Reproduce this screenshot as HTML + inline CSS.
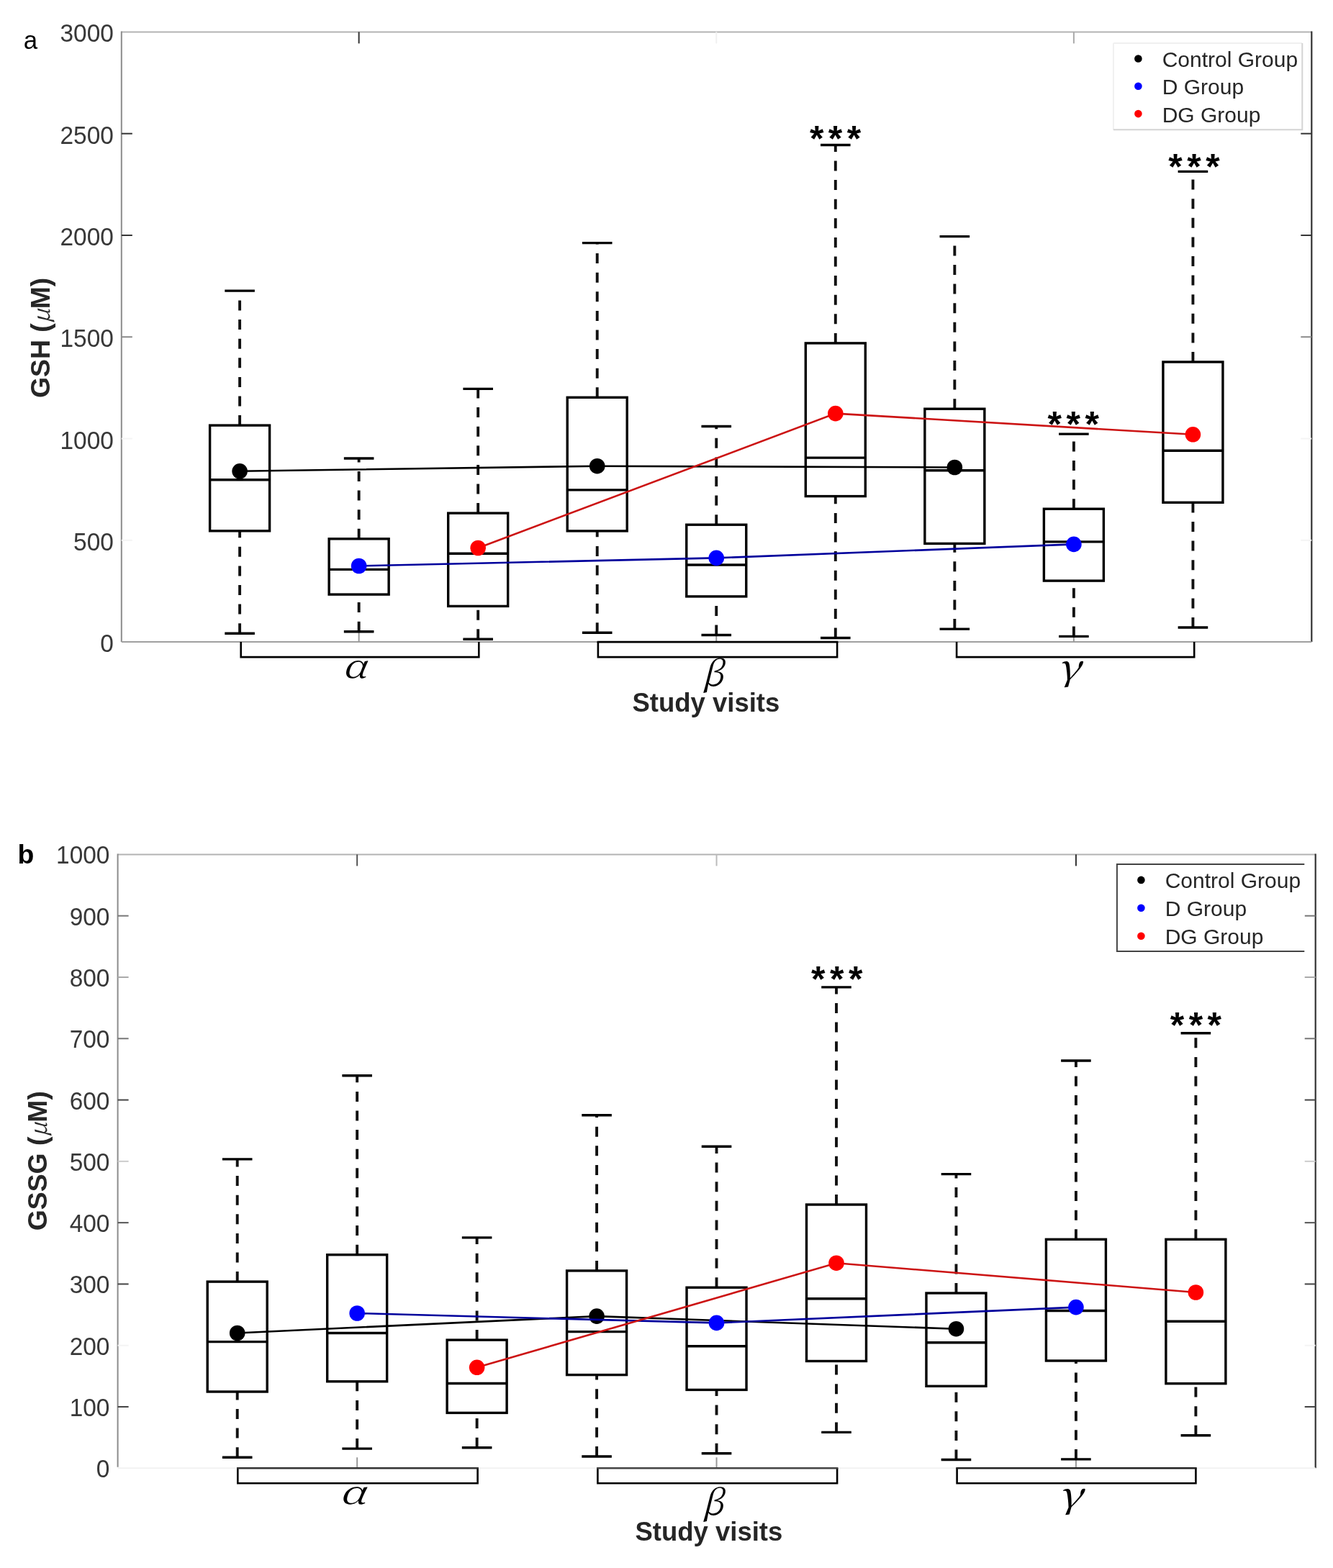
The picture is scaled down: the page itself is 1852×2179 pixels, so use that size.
<!DOCTYPE html><html><head><meta charset="utf-8"><title>GSH and GSSG box plots</title>
<style>html,body{margin:0;padding:0;background:#fff;}svg{display:block;}</style></head><body>
<svg width="1852" height="2179" viewBox="0 0 1852 2179">
<rect x="0" y="0" width="1852" height="2179" fill="#fff"/>
<g fill="none" stroke-linecap="butt">
<line x1="168.8" y1="44.4" x2="1822.3" y2="44.4" stroke="#b3b3b3" stroke-width="2"/>
<line x1="168.8" y1="43.4" x2="168.8" y2="892.1" stroke="#8c8c8c" stroke-width="2"/>
<line x1="1822.3" y1="43.4" x2="1822.3" y2="892.1" stroke="#333" stroke-width="2.2"/>
<line x1="168.8" y1="892.1" x2="1822.3" y2="892.1" stroke="#a0a0a0" stroke-width="2"/>
<line x1="168.8" y1="750.82" x2="183.8" y2="750.82" stroke="#f4f4f4" stroke-width="2"/>
<line x1="1807.3" y1="750.82" x2="1822.3" y2="750.82" stroke="#f4f4f4" stroke-width="2"/>
<line x1="168.8" y1="609.53" x2="183.8" y2="609.53" stroke="#f4f4f4" stroke-width="2"/>
<line x1="1807.3" y1="609.53" x2="1822.3" y2="609.53" stroke="#f4f4f4" stroke-width="2"/>
<line x1="168.8" y1="468.25" x2="183.8" y2="468.25" stroke="#8a8a8a" stroke-width="2"/>
<line x1="1807.3" y1="468.25" x2="1822.3" y2="468.25" stroke="#8a8a8a" stroke-width="2"/>
<line x1="168.8" y1="326.97" x2="183.8" y2="326.97" stroke="#333" stroke-width="2"/>
<line x1="1807.3" y1="326.97" x2="1822.3" y2="326.97" stroke="#333" stroke-width="2"/>
<line x1="168.8" y1="185.68" x2="183.8" y2="185.68" stroke="#333" stroke-width="2"/>
<line x1="1807.3" y1="185.68" x2="1822.3" y2="185.68" stroke="#333" stroke-width="2"/>
<line x1="498.64" y1="44.4" x2="498.64" y2="60.4" stroke="#333" stroke-width="2"/>
<line x1="498.64" y1="892.1" x2="498.64" y2="877.1" stroke="#999" stroke-width="2"/>
<line x1="995.26" y1="44.4" x2="995.26" y2="60.4" stroke="#f0f0f0" stroke-width="2"/>
<line x1="995.26" y1="892.1" x2="995.26" y2="877.1" stroke="#999" stroke-width="2"/>
<line x1="1491.88" y1="44.4" x2="1491.88" y2="60.4" stroke="#aaa" stroke-width="2"/>
<line x1="1491.88" y1="892.1" x2="1491.88" y2="877.1" stroke="#999" stroke-width="2"/>
</g>
<g font-family="'Liberation Sans', Arial, Helvetica, sans-serif" font-size="34.8" fill="#383838" text-anchor="end">
<text transform="translate(157.8,906.1) scale(0.96,1)">0</text>
<text transform="translate(157.8,764.82) scale(0.96,1)">500</text>
<text transform="translate(157.8,623.53) scale(0.96,1)">1000</text>
<text transform="translate(157.8,482.25) scale(0.96,1)">1500</text>
<text transform="translate(157.8,340.97) scale(0.96,1)">2000</text>
<text transform="translate(157.8,199.68) scale(0.96,1)">2500</text>
<text transform="translate(157.8,58.4) scale(0.96,1)">3000</text>
</g>
<g fill="none" stroke="#000" stroke-width="3.4">
<path d="M333.1 591.1V404.1M333.1 880.2V737.8" stroke-dasharray="14 12.6" stroke-width="3.9" stroke="#111"/>
<path d="M312.3 404.1H353.9M312.3 880.2H353.9"/>
<rect x="291.6" y="591.1" width="83" height="146.7"/>
<path d="M291.6 666.8H374.6"/>
<path d="M498.64 748.8V637M498.64 877.7V826.1" stroke-dasharray="14 12.6" stroke-width="3.9" stroke="#111"/>
<path d="M477.84 637H519.44M477.84 877.7H519.44"/>
<rect x="457.14" y="748.8" width="83" height="77.3"/>
<path d="M457.14 791.4H540.14"/>
<path d="M664.18 713.1V540.4M664.18 888.3V842.4" stroke-dasharray="14 12.6" stroke-width="3.9" stroke="#111"/>
<path d="M643.38 540.4H684.98M643.38 888.3H684.98"/>
<rect x="622.68" y="713.1" width="83" height="129.3"/>
<path d="M622.68 769.2H705.68"/>
<path d="M829.72 552.3V337.6M829.72 879.3V737.9" stroke-dasharray="14 12.6" stroke-width="3.9" stroke="#111"/>
<path d="M808.92 337.6H850.52M808.92 879.3H850.52"/>
<rect x="788.22" y="552.3" width="83" height="185.6"/>
<path d="M788.22 680.9H871.22"/>
<path d="M995.26 729.2V592.5M995.26 882.5V828.9" stroke-dasharray="14 12.6" stroke-width="3.9" stroke="#111"/>
<path d="M974.46 592.5H1016.06M974.46 882.5H1016.06"/>
<rect x="953.76" y="729.2" width="83" height="99.7"/>
<path d="M953.76 785H1036.76"/>
<path d="M1160.8 476.9V201.5M1160.8 886.5V689.6" stroke-dasharray="14 12.6" stroke-width="3.9" stroke="#111"/>
<path d="M1140 201.5H1181.6M1140 886.5H1181.6"/>
<rect x="1119.3" y="476.9" width="83" height="212.7"/>
<path d="M1119.3 636.1H1202.3"/>
<path d="M1326.34 568.2V328.6M1326.34 874.1V755.4" stroke-dasharray="14 12.6" stroke-width="3.9" stroke="#111"/>
<path d="M1305.54 328.6H1347.14M1305.54 874.1H1347.14"/>
<rect x="1284.84" y="568.2" width="83" height="187.2"/>
<path d="M1284.84 653.8H1367.84"/>
<path d="M1491.88 707.2V603.1M1491.88 884.4V807.1" stroke-dasharray="14 12.6" stroke-width="3.9" stroke="#111"/>
<path d="M1471.08 603.1H1512.68M1471.08 884.4H1512.68"/>
<rect x="1450.38" y="707.2" width="83" height="99.9"/>
<path d="M1450.38 752.9H1533.38"/>
<path d="M1657.42 503V238.4M1657.42 872V698.3" stroke-dasharray="14 12.6" stroke-width="3.9" stroke="#111"/>
<path d="M1636.62 238.4H1678.22M1636.62 872H1678.22"/>
<rect x="1615.92" y="503" width="83" height="195.3"/>
<path d="M1615.92 626.3H1698.92"/>
</g>
<path d="M334.7 892.1V913.1H665.3V892.1" fill="none" stroke="#000" stroke-width="2.6"/>
<path d="M830.9 892.1V913.1H1163.1V892.1" fill="none" stroke="#000" stroke-width="2.6"/>
<path d="M829.6 892.1H1164.4" fill="none" stroke="#000" stroke-width="2.6"/>
<path d="M1329.1 892.1V913.1H1659.2V892.1" fill="none" stroke="#000" stroke-width="2.6"/>
<path d="M333.1 654.8 L829.72 647.7 L1326.34 649.5" fill="none" stroke="#000000" stroke-width="2.6"/>
<circle cx="333.1" cy="654.8" r="10.8" fill="#000000"/>
<circle cx="829.72" cy="647.7" r="10.8" fill="#000000"/>
<circle cx="1326.34" cy="649.5" r="10.8" fill="#000000"/>
<path d="M498.64 786.5 L995.26 775.4 L1491.88 756.4" fill="none" stroke="#00009c" stroke-width="2.6"/>
<circle cx="498.64" cy="786.5" r="10.8" fill="#0000ff"/>
<circle cx="995.26" cy="775.4" r="10.8" fill="#0000ff"/>
<circle cx="1491.88" cy="756.4" r="10.8" fill="#0000ff"/>
<path d="M664.18 761.5 L1160.8 574.6 L1657.42 603.8" fill="none" stroke="#cc1414" stroke-width="2.6"/>
<circle cx="664.18" cy="761.5" r="10.8" fill="#ff0000"/>
<circle cx="1160.8" cy="574.6" r="10.8" fill="#ff0000"/>
<circle cx="1657.42" cy="603.8" r="10.8" fill="#ff0000"/>
<g font-family="'Liberation Sans', Arial, Helvetica, sans-serif" font-weight="bold" font-size="50" letter-spacing="6.5" fill="#000" text-anchor="middle">
<text x="1163.85" y="210.4">***</text>
<text x="1494.55" y="607">***</text>
<text x="1662.25" y="248.8">***</text>
</g>
<g font-family="'Noto Serif CJK SC', 'Liberation Serif', serif" font-style="italic" fill="#000">
<text transform="translate(475.64,942.2) scale(1.206,1)" font-size="45.28">α</text>
<text transform="translate(974.89,952.86) scale(1.003,1)" font-size="48.08">β</text>
<text transform="translate(1468.62,944.88) scale(1.206,1)" font-size="49.59">γ</text>
</g>
<text x="980.9" y="988.5" font-family="'Liberation Sans', Arial, Helvetica, sans-serif" font-weight="bold" font-size="36.5" fill="#262626" text-anchor="middle">Study visits</text>
<text transform="translate(69.3,469.4) rotate(-90)" font-family="'Liberation Sans', Arial, Helvetica, sans-serif" font-weight="bold" font-size="37.3" fill="#262626" text-anchor="middle">GSH (<tspan font-family="'Noto Serif CJK SC', 'Liberation Serif', serif" font-style="italic" font-weight="normal" font-size="32">μ</tspan>M)</text>
<text x="32.7" y="67.8" font-family="'Liberation Sans', Arial, Helvetica, sans-serif" font-size="34.8" fill="#000">a</text>
<rect x="1546.9" y="59.9" width="262.4" height="120.3" fill="#fff" stroke="none"/>
<path d="M1546.9 59.9H1809.3M1546.9 59.9V180.2" fill="none" stroke="#f0f0f0" stroke-width="2"/>
<path d="M1809.3 59.9V180.2H1546.9" fill="none" stroke="#d4d4d4" stroke-width="2"/>
<circle cx="1581.4" cy="81.5" r="5.3" fill="#000000"/>
<text x="1614.7" y="93" font-family="'Liberation Sans', Arial, Helvetica, sans-serif" font-size="30" fill="#262626">Control Group</text>
<circle cx="1581.4" cy="119.8" r="5.3" fill="#0000ff"/>
<text x="1614.7" y="131.3" font-family="'Liberation Sans', Arial, Helvetica, sans-serif" font-size="30" fill="#262626">D Group</text>
<circle cx="1581.4" cy="158.1" r="5.3" fill="#ff0000"/>
<text x="1614.7" y="169.6" font-family="'Liberation Sans', Arial, Helvetica, sans-serif" font-size="30" fill="#262626">DG Group</text>
<g fill="none" stroke-linecap="butt">
<line x1="163.6" y1="1187.4" x2="1827.7" y2="1187.4" stroke="#b3b3b3" stroke-width="2"/>
<line x1="163.6" y1="1186.4" x2="163.6" y2="2038.8" stroke="#8c8c8c" stroke-width="2"/>
<line x1="1827.7" y1="1186.4" x2="1827.7" y2="2040.3" stroke="#333" stroke-width="2.2"/>
<line x1="163.6" y1="2040.3" x2="1827.7" y2="2040.3" stroke="#f2f2f2" stroke-width="2"/>
<line x1="163.6" y1="1955.01" x2="178.6" y2="1955.01" stroke="#444" stroke-width="2"/>
<line x1="1812.7" y1="1955.01" x2="1827.7" y2="1955.01" stroke="#444" stroke-width="2"/>
<line x1="163.6" y1="1869.72" x2="178.6" y2="1869.72" stroke="#f4f4f4" stroke-width="2"/>
<line x1="1812.7" y1="1869.72" x2="1827.7" y2="1869.72" stroke="#f4f4f4" stroke-width="2"/>
<line x1="163.6" y1="1784.43" x2="178.6" y2="1784.43" stroke="#444" stroke-width="2"/>
<line x1="1812.7" y1="1784.43" x2="1827.7" y2="1784.43" stroke="#444" stroke-width="2"/>
<line x1="163.6" y1="1699.14" x2="178.6" y2="1699.14" stroke="#555" stroke-width="2"/>
<line x1="1812.7" y1="1699.14" x2="1827.7" y2="1699.14" stroke="#555" stroke-width="2"/>
<line x1="163.6" y1="1613.85" x2="178.6" y2="1613.85" stroke="#ccc" stroke-width="2"/>
<line x1="1812.7" y1="1613.85" x2="1827.7" y2="1613.85" stroke="#ccc" stroke-width="2"/>
<line x1="163.6" y1="1528.56" x2="178.6" y2="1528.56" stroke="#444" stroke-width="2"/>
<line x1="1812.7" y1="1528.56" x2="1827.7" y2="1528.56" stroke="#444" stroke-width="2"/>
<line x1="163.6" y1="1443.27" x2="178.6" y2="1443.27" stroke="#777" stroke-width="2"/>
<line x1="1812.7" y1="1443.27" x2="1827.7" y2="1443.27" stroke="#777" stroke-width="2"/>
<line x1="163.6" y1="1357.98" x2="178.6" y2="1357.98" stroke="#aaa" stroke-width="2"/>
<line x1="1812.7" y1="1357.98" x2="1827.7" y2="1357.98" stroke="#aaa" stroke-width="2"/>
<line x1="163.6" y1="1272.69" x2="178.6" y2="1272.69" stroke="#777" stroke-width="2"/>
<line x1="1812.7" y1="1272.69" x2="1827.7" y2="1272.69" stroke="#777" stroke-width="2"/>
<line x1="496.16" y1="1187.4" x2="496.16" y2="1203.4" stroke="#555" stroke-width="2"/>
<line x1="496.16" y1="2040.3" x2="496.16" y2="2025.3" stroke="#999" stroke-width="2"/>
<line x1="995.54" y1="1187.4" x2="995.54" y2="1203.4" stroke="#bbb" stroke-width="2"/>
<line x1="995.54" y1="2040.3" x2="995.54" y2="2025.3" stroke="#999" stroke-width="2"/>
<line x1="1494.92" y1="1187.4" x2="1494.92" y2="1203.4" stroke="#333" stroke-width="2"/>
<line x1="1494.92" y1="2040.3" x2="1494.92" y2="2025.3" stroke="#999" stroke-width="2"/>
</g>
<g font-family="'Liberation Sans', Arial, Helvetica, sans-serif" font-size="34.8" fill="#383838" text-anchor="end">
<text transform="translate(152.4,2053.3) scale(0.96,1)">0</text>
<text transform="translate(152.4,1968.01) scale(0.96,1)">100</text>
<text transform="translate(152.4,1882.72) scale(0.96,1)">200</text>
<text transform="translate(152.4,1797.43) scale(0.96,1)">300</text>
<text transform="translate(152.4,1712.14) scale(0.96,1)">400</text>
<text transform="translate(152.4,1626.85) scale(0.96,1)">500</text>
<text transform="translate(152.4,1541.56) scale(0.96,1)">600</text>
<text transform="translate(152.4,1456.27) scale(0.96,1)">700</text>
<text transform="translate(152.4,1370.98) scale(0.96,1)">800</text>
<text transform="translate(152.4,1285.69) scale(0.96,1)">900</text>
<text transform="translate(152.4,1200.4) scale(0.96,1)">1000</text>
</g>
<g fill="none" stroke="#000" stroke-width="3.4">
<path d="M329.7 1781.1V1610.9M329.7 2025.2V1934" stroke-dasharray="14 12.6" stroke-width="3.9" stroke="#111"/>
<path d="M308.9 1610.9H350.5M308.9 2025.2H350.5"/>
<rect x="288.2" y="1781.1" width="83" height="152.9"/>
<path d="M288.2 1864.6H371.2"/>
<path d="M496.16 1743.7V1494.7M496.16 2013.1V1919.8" stroke-dasharray="14 12.6" stroke-width="3.9" stroke="#111"/>
<path d="M475.36 1494.7H516.96M475.36 2013.1H516.96"/>
<rect x="454.66" y="1743.7" width="83" height="176.1"/>
<path d="M454.66 1852.5H537.66"/>
<path d="M662.62 1862.1V1719.9M662.62 2011.7V1963.4" stroke-dasharray="14 12.6" stroke-width="3.9" stroke="#111"/>
<path d="M641.82 1719.9H683.42M641.82 2011.7H683.42"/>
<rect x="621.12" y="1862.1" width="83" height="101.3"/>
<path d="M621.12 1922.5H704.12"/>
<path d="M829.08 1765.9V1549.8M829.08 2024V1910.6" stroke-dasharray="14 12.6" stroke-width="3.9" stroke="#111"/>
<path d="M808.28 1549.8H849.88M808.28 2024H849.88"/>
<rect x="787.58" y="1765.9" width="83" height="144.7"/>
<path d="M787.58 1850.6H870.58"/>
<path d="M995.54 1789.2V1593.2M995.54 2019.8V1931.4" stroke-dasharray="14 12.6" stroke-width="3.9" stroke="#111"/>
<path d="M974.74 1593.2H1016.34M974.74 2019.8H1016.34"/>
<rect x="954.04" y="1789.2" width="83" height="142.2"/>
<path d="M954.04 1870.7H1037.04"/>
<path d="M1162 1674V1371.9M1162 1990.4V1891.5" stroke-dasharray="14 12.6" stroke-width="3.9" stroke="#111"/>
<path d="M1141.2 1371.9H1182.8M1141.2 1990.4H1182.8"/>
<rect x="1120.5" y="1674" width="83" height="217.5"/>
<path d="M1120.5 1804.8H1203.5"/>
<path d="M1328.46 1797V1631.6M1328.46 2028.5V1926.3" stroke-dasharray="14 12.6" stroke-width="3.9" stroke="#111"/>
<path d="M1307.66 1631.6H1349.26M1307.66 2028.5H1349.26"/>
<rect x="1286.96" y="1797" width="83" height="129.3"/>
<path d="M1286.96 1865.7H1369.96"/>
<path d="M1494.92 1722.3V1474M1494.92 2027.9V1891" stroke-dasharray="14 12.6" stroke-width="3.9" stroke="#111"/>
<path d="M1474.12 1474H1515.72M1474.12 2027.9H1515.72"/>
<rect x="1453.42" y="1722.3" width="83" height="168.7"/>
<path d="M1453.42 1821.5H1536.42"/>
<path d="M1661.38 1722.3V1435.7M1661.38 1994.8V1922.7" stroke-dasharray="14 12.6" stroke-width="3.9" stroke="#111"/>
<path d="M1640.58 1435.7H1682.18M1640.58 1994.8H1682.18"/>
<rect x="1619.88" y="1722.3" width="83" height="200.4"/>
<path d="M1619.88 1836.3H1702.88"/>
</g>
<path d="M330.3 2040.3V2061.3H663.6V2040.3" fill="none" stroke="#000" stroke-width="2.6"/>
<path d="M329 2040.3H664.9" fill="none" stroke="#333" stroke-width="2.6"/>
<path d="M830.4 2040.3V2061.3H1163.1V2040.3" fill="none" stroke="#000" stroke-width="2.6"/>
<path d="M829.1 2040.3H1164.4" fill="none" stroke="#444" stroke-width="2.6"/>
<path d="M1329.6 2040.3V2061.3H1661.4V2040.3" fill="none" stroke="#000" stroke-width="2.6"/>
<path d="M1328.3 2040.3H1662.7" fill="none" stroke="#222" stroke-width="2.6"/>
<path d="M329.7 1852.5 L829.08 1829.1 L1328.46 1846.7" fill="none" stroke="#000000" stroke-width="2.6"/>
<circle cx="329.7" cy="1852.5" r="10.8" fill="#000000"/>
<circle cx="829.08" cy="1829.1" r="10.8" fill="#000000"/>
<circle cx="1328.46" cy="1846.7" r="10.8" fill="#000000"/>
<path d="M496.16 1825 L995.54 1838.4 L1494.92 1816.6" fill="none" stroke="#00009c" stroke-width="2.6"/>
<circle cx="496.16" cy="1825" r="10.8" fill="#0000ff"/>
<circle cx="995.54" cy="1838.4" r="10.8" fill="#0000ff"/>
<circle cx="1494.92" cy="1816.6" r="10.8" fill="#0000ff"/>
<path d="M662.62 1900.3 L1162 1755.2 L1661.38 1796" fill="none" stroke="#cc1414" stroke-width="2.6"/>
<circle cx="662.62" cy="1900.3" r="10.8" fill="#ff0000"/>
<circle cx="1162" cy="1755.2" r="10.8" fill="#ff0000"/>
<circle cx="1661.38" cy="1796" r="10.8" fill="#ff0000"/>
<g font-family="'Liberation Sans', Arial, Helvetica, sans-serif" font-weight="bold" font-size="50" letter-spacing="6.5" fill="#000" text-anchor="middle">
<text x="1165.95" y="1377.8">***</text>
<text x="1664.65" y="1442.4">***</text>
</g>
<g font-family="'Noto Serif CJK SC', 'Liberation Serif', serif" font-style="italic" fill="#000">
<text transform="translate(471.62,2089.7) scale(1.332,1)" font-size="44.91">α</text>
<text transform="translate(974.89,2104.76) scale(1.003,1)" font-size="48.08">β</text>
<text transform="translate(1469.5,2094.88) scale(1.260,1)" font-size="49.59">γ</text>
</g>
<text x="984.9" y="2140.8" font-family="'Liberation Sans', Arial, Helvetica, sans-serif" font-weight="bold" font-size="36.5" fill="#262626" text-anchor="middle">Study visits</text>
<text transform="translate(64.6,1613.2) rotate(-90)" font-family="'Liberation Sans', Arial, Helvetica, sans-serif" font-weight="bold" font-size="37.3" fill="#262626" text-anchor="middle">GSSG (<tspan font-family="'Noto Serif CJK SC', 'Liberation Serif', serif" font-style="italic" font-weight="normal" font-size="32">μ</tspan>M)</text>
<text x="24.4" y="1200.1" font-family="'Liberation Sans', Arial, Helvetica, sans-serif" font-weight="bold" font-size="37.4" fill="#000">b</text>
<rect x="1551.9" y="1200.9" width="260.4" height="121.1" fill="#fff" stroke="none"/>
<path d="M1812.3 1200.9H1551.9V1322H1812.3" fill="none" stroke="#444" stroke-width="2"/>
<circle cx="1585.4" cy="1222.9" r="5.3" fill="#000000"/>
<text x="1618.7" y="1234.4" font-family="'Liberation Sans', Arial, Helvetica, sans-serif" font-size="30" fill="#262626">Control Group</text>
<circle cx="1585.4" cy="1261.8" r="5.3" fill="#0000ff"/>
<text x="1618.7" y="1273.3" font-family="'Liberation Sans', Arial, Helvetica, sans-serif" font-size="30" fill="#262626">D Group</text>
<circle cx="1585.4" cy="1300.7" r="5.3" fill="#ff0000"/>
<text x="1618.7" y="1312.2" font-family="'Liberation Sans', Arial, Helvetica, sans-serif" font-size="30" fill="#262626">DG Group</text>
</svg></body></html>
